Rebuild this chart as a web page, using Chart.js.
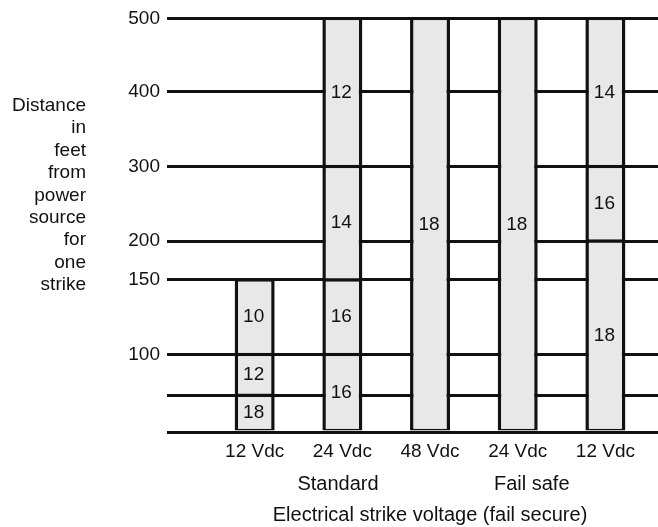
<!DOCTYPE html>
<html>
<head>
<meta charset="utf-8">
<script src="https://cdn.jsdelivr.net/npm/chart.js@4.4.1/dist/chart.umd.min.js"></script>
<style>
    html, body { margin: 0; padding: 0; background: #fff; }
    #wrap { position: relative; width: 658px; height: 527px; }
</style>
</head>
<body>
<div id="wrap"><canvas id="strikeChart"></canvas></div>
<script>
// Columns along the bottom, left to right
const columns = ['12 Vdc', '24 Vdc', '48 Vdc', '24 Vdc', '12 Vdc'];
const groups = ['Standard', 'Fail safe'];
const xTitle = 'Electrical strike voltage (fail secure)';
const yTitle = ['Distance', 'in', 'feet', 'from', 'power', 'source', 'for', 'one', 'strike'];

// Distance bands (feet) per column, bottom to top
const bandEdges = [
    [0, 75, 100, 150],
    [0, 100, 150, 300, 500],
    [0, 500],
    [0, 500],
    [0, 200, 300, 500]
];
// Wire gauge written in each band
const gauges = [
    [18, 12, 10],
    [16, 16, 14, 12],
    [18],
    [18],
    [18, 16, 14]
];

// Horizontal rules on the distance axis, and the ones that carry a number
const rules = [0, 75, 100, 150, 200, 300, 400, 500];
const yTickLabels = [100, 150, 200, 300, 400, 500];

// The distance axis is not linear: relative height of each gap between rules
const ruleGaps = [37, 41, 75, 39, 75, 75, 74];

const FONT = '"Liberation Sans", Arial, Helvetica, sans-serif';
const INK = '#111';

// Linear scale with piecewise spacing between the rules
class RuleScale extends Chart.LinearScale {
    decimalFor(v) {
        const total = ruleGaps.reduce((a, b) => a + b, 0);
        let acc = 0;
        for (let i = 0; i < ruleGaps.length; i++) {
            if (v <= rules[i + 1] || i === ruleGaps.length - 1) {
                return (acc + ruleGaps[i] * (v - rules[i]) / (rules[i + 1] - rules[i])) / total;
            }
            acc += ruleGaps[i];
        }
        return 0;
    }
    getPixelForValue(v) {
        return v === null ? NaN : this.getPixelForDecimal(this.decimalFor(v));
    }
}
RuleScale.id = 'rule';
RuleScale.defaults = Chart.LinearScale.defaults;
Chart.register(RuleScale);

// One dataset per band level, so each column stacks its own bands
const datasets = [];
bandEdges.forEach((edges, col) => {
    for (let k = 0; k < edges.length - 1; k++) {
        if (!datasets[k]) {
            datasets[k] = {
                data: [],
                backgroundColor: '#e8e8e8',
                borderColor: INK,
                borderWidth: { top: 1.75, bottom: 1.75, left: 3.5, right: 3.5 },
                borderSkipped: false,
                inflateAmount: 0,
                barThickness: 40
            };
        }
        datasets[k].data.push({ x: col + 1, y: [edges[k], edges[k + 1]], gauge: gauges[col][k] });
    }
});

// Gauge numbers in the middle of each band
const gaugeLabels = {
    id: 'gaugeLabels',
    afterDatasetsDraw(chart) {
        const ctx = chart.ctx;
        ctx.save();
        ctx.font = '19px ' + FONT;
        ctx.fillStyle = INK;
        ctx.textAlign = 'center';
        ctx.textBaseline = 'middle';
        chart.data.datasets.forEach((ds, i) => {
            chart.getDatasetMeta(i).data.forEach((bar, j) => {
                ctx.fillText(String(ds.data[j].gauge), bar.x - 1, (bar.y + bar.base) / 2);
            });
        });
        ctx.restore();
    }
};

// Axis texts that Chart.js can't lay out this way
const axisTexts = {
    id: 'axisTexts',
    afterDraw(chart) {
        const ctx = chart.ctx;
        const x = chart.scales.x;
        ctx.save();
        ctx.fillStyle = INK;
        ctx.textBaseline = 'alphabetic';

        ctx.font = '19px ' + FONT;
        ctx.textAlign = 'right';
        yTitle.forEach((line, i) => ctx.fillText(line, 86, 111 + i * 22.4));

        ctx.font = '20px ' + FONT;
        ctx.textAlign = 'center';
        ctx.fillText(groups[0], x.getPixelForValue(1.95), 490);
        ctx.fillText(groups[1], x.getPixelForValue(4.16), 490);
        ctx.fillText(xTitle, x.getPixelForValue(3), 521);
        ctx.restore();
    }
};

Chart.defaults.font.family = FONT;
Chart.defaults.font.size = 19;
Chart.defaults.color = INK;

new Chart(document.getElementById('strikeChart'), {
    type: 'bar',
    data: { datasets: datasets },
    options: {
        responsive: true,
        maintainAspectRatio: false,
        animation: false,
        events: [],
        layout: { padding: { left: 0, top: 16, right: 0, bottom: 53 } },
        plugins: {
            legend: { display: false },
            tooltip: { enabled: false }
        },
        scales: {
            x: {
                type: 'linear',
                stacked: true,
                offset: false,
                min: 0,
                max: 5.6,
                grid: { display: false, offset: false },
                border: { display: false },
                afterBuildTicks: (scale) => {
                    scale.ticks = columns.map((_, i) => ({ value: i + 1 }));
                },
                afterFit: (scale) => { scale.height = 42; },
                ticks: {
                    padding: 0,
                    maxRotation: 0,
                    callback: (value, index) => columns[index]
                }
            },
            y: {
                type: 'rule',
                stacked: false,
                min: 0,
                max: 500,
                grid: { color: INK, lineWidth: 3, drawTicks: false },
                border: { display: false },
                afterBuildTicks: (scale) => {
                    scale.ticks = rules.map(v => ({ value: v }));
                },
                afterFit: (scale) => { scale.width = 167; },
                ticks: {
                    padding: 7,
                    callback: (value) => yTickLabels.includes(value) ? String(value) : ''
                }
            }
        }
    },
    plugins: [gaugeLabels, axisTexts]
});
</script>
</body>
</html>
